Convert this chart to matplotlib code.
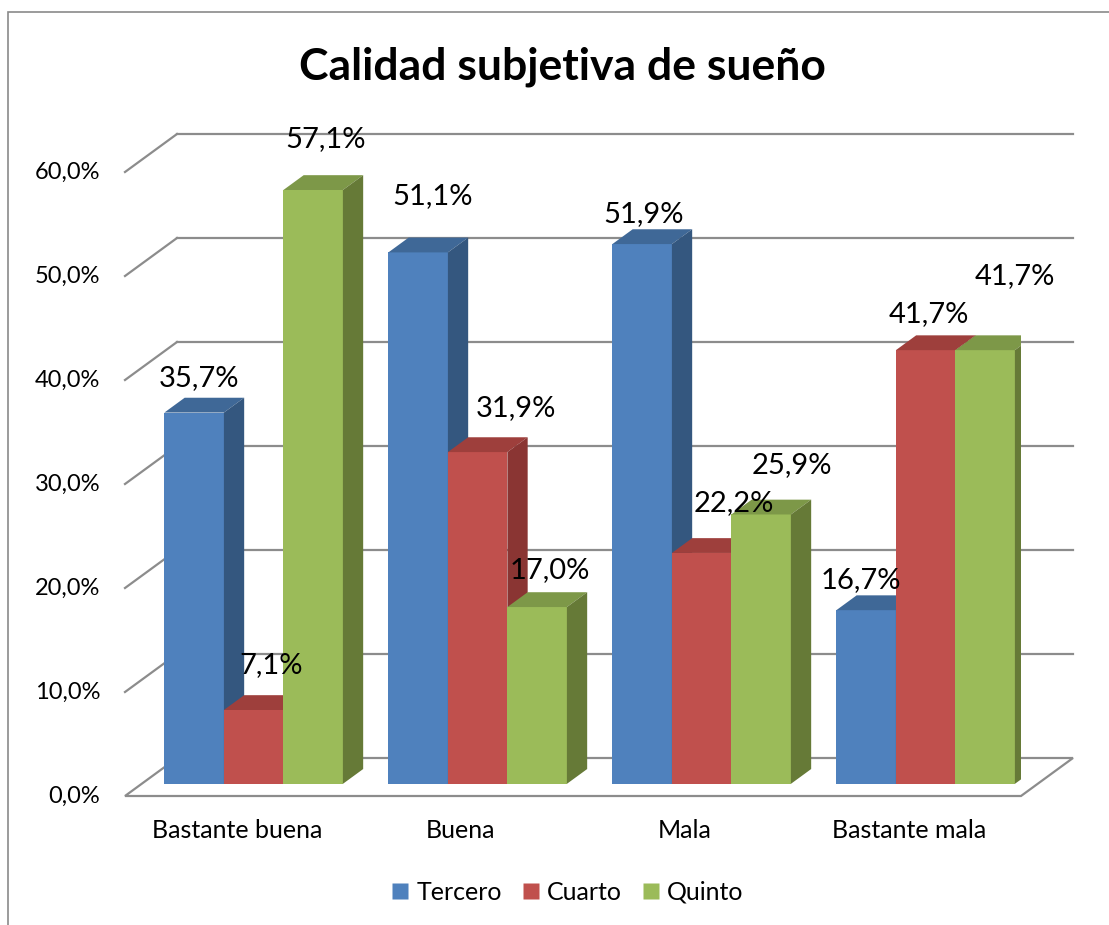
import matplotlib
matplotlib.use("Agg")
import matplotlib.pyplot as plt
from matplotlib.patches import Polygon, Rectangle
from matplotlib.lines import Line2D
import numpy as np

plt.rcParams['font.family'] = ['Lato', 'DejaVu Sans']

# ---- data ----
categories = ["Bastante buena", "Buena", "Mala", "Bastante mala"]
series = ["Tercero", "Cuarto", "Quinto"]
tercero = [35.7, 51.1, 51.9, 16.7]
cuarto = [7.1, 31.9, 22.2, 41.7]
quinto = [57.1, 17.0, 25.9, 41.7]
yticks = [0, 10, 20, 30, 40, 50, 60]

# label nudges (points) to mimic the hand-placed Excel labels
label_nudge = [
    [(-4, 0), (5, 8), (2, 12)],
    [(3, 16), (20, 7), (2, 2)],
    [(-6, -3), (16, 11), (15, 11)],
    [(-11, -3), (-5, 1), (14, 29)],
]

front = ['#4F81BD', '#C0504D', '#9BBB59']
top = ['#3F6897', '#9E3F3C', '#7D9848']
side = ['#34577F', '#8A3533', '#667A37']
grid_c = '#8C8C8C'

fig = plt.figure(figsize=(11.09, 9.25), dpi=100)
W, H = 1109, 925
ax = fig.add_axes([125 / W, (H - 796) / H, 896 / W, 624 / H])
ax.set_xlim(0, 4)
ax.set_ylim(0, 60)
ax.axis('off')

# depth vector of the 3d box (data units)
DX, DY = 52 / 224, 38 / 10.4
f0, f1 = 0.32, 0.71   # bar front / back depth
bw = 59.5 / 224
gap = (1 - 3 * bw) / 2

# floor
floor = Polygon([(0, 0), (4, 0), (4 + DX, DY), (DX, DY)], closed=True,
                facecolor='white', edgecolor=grid_c, lw=1.6, zorder=1, clip_on=False)
ax.add_patch(floor)

# back wall gridlines + left wall diagonals
for v in yticks[1:]:
    ax.plot([DX, 4 + DX], [v + DY, v + DY], color=grid_c, lw=1.6, zorder=1, clip_on=False)
    ax.plot([0, DX], [v, v + DY], color=grid_c, lw=1.6, zorder=1, clip_on=False)

for v in yticks:
    ax.text(-0.11, v, f"{v:.1f}%".replace('.', ','), ha='right', va='center',
            fontsize=17, color='black')

for i, c in enumerate(categories):
    ax.text(i + 0.5, -3.3, c, ha='center', va='center', fontsize=18)

# bars
vals = [tercero, cuarto, quinto]
z = 2
for i in range(len(categories)):
    for j in range(3):
        v = vals[j][i]
        x0 = i + gap + j * bw + f0 * DX
        y0 = f0 * DY
        d = f1 - f0
        ax.bar(x0, v, width=bw, bottom=y0, align='edge', color=front[j],
               edgecolor='none', zorder=z)
        ax.add_patch(Polygon([(x0, y0 + v), (x0 + bw, y0 + v),
                              (x0 + bw + d * DX, y0 + v + d * DY),
                              (x0 + d * DX, y0 + v + d * DY)],
                             closed=True, facecolor=top[j], edgecolor='none', zorder=z))
        ax.add_patch(Polygon([(x0 + bw, y0), (x0 + bw, y0 + v),
                              (x0 + bw + d * DX, y0 + v + d * DY),
                              (x0 + bw + d * DX, y0 + d * DY)],
                             closed=True, facecolor=side[j], edgecolor='none', zorder=z))
        z += 1
        nx, ny = label_nudge[i][j]
        ax.annotate(f"{v:.1f}%".replace('.', ','),
                    (x0 + bw / 2 + d * DX / 2, y0 + v + d * DY),
                    xytext=(nx, 14 + ny), textcoords='offset points',
                    ha='center', va='center', fontsize=21, zorder=50)

fig.text(562 / W, 1 - 67 / H, "Calidad subjetiva de sueño", ha='center', va='center',
         fontsize=32, fontweight='bold')

handles = [Line2D([], [], marker='s', ls='none', markersize=11,
                  markerfacecolor=front[k], markeredgecolor='none') for k in range(3)]
fig.legend(handles, series, loc='center', bbox_to_anchor=(566 / W, 1 - 892 / H),
           ncol=3, frameon=False, fontsize=18, handletextpad=0.2,
           columnspacing=0.7, handlelength=0.9)

# chart border
fig.patches.append(Rectangle((8 / W, -0.1), 1.2, 1 - 12 / H + 0.1,
                             transform=fig.transFigure, fill=False,
                             edgecolor='#8A8A8A', lw=1.2))

fig.savefig("out.png", dpi=100)
